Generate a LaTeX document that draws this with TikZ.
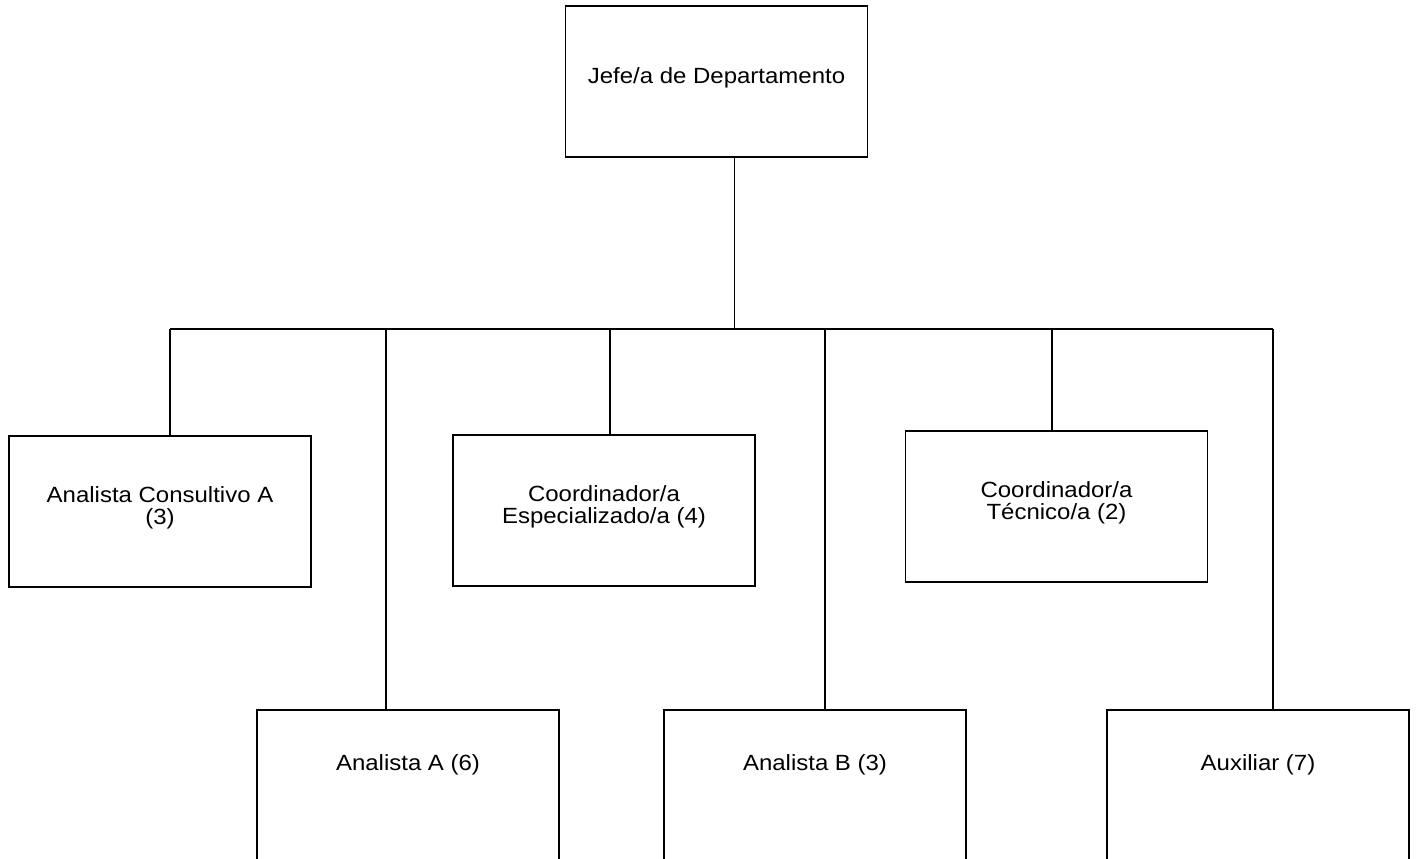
\documentclass[tikz,border=0pt]{standalone}
\usepackage{fontspec}
\setmainfont{Liberation Sans}[FakeStretch=1.09]

\begin{document}
\begin{tikzpicture}[x=0.5pt,y=-0.5pt,
  box/.style={draw,line width=0.8pt,minimum width=151pt,minimum height=75.5pt,
    align=center,text depth=5.5pt,font=\fontsize{11}{11}\selectfont},
  low/.style={box,anchor=north,minimum height=0pt,inner ysep=0pt,
    text height=30.5pt,text depth=100pt},
  link/.style={line width=0.6pt}]
\clip (0,0) rectangle (1416,858);
\node[box] (jefe) at (716.5,81.5) {Jefe/a de Departamento};
\node[box] (ac) at (160,511.5) {Analista Consultivo A\\(3)};
\node[box] (ce) at (604,510.5) {Coordinador/a\\Especializado/a (4)};
\node[box] (ct) at (1056.5,506.5) {Coordinador/a\\Técnico/a (2)};
\node[low] (aa) at (408,709) {Analista A (6)};
\node[low] (ab) at (815,709) {Analista B (3)};
\node[low] (aux) at (1258,709) {Auxiliar (7)};
% bus and drops
\coordinate (top) at (734.5,329);
\coordinate (d1) at (170,329);
\coordinate (d2) at (386,329);
\coordinate (d3) at (610,329);
\coordinate (d4) at (825,329);
\coordinate (d5) at (1052,329);
\coordinate (d6) at (1273,329);
\draw[link] (top |- jefe.south) -- (top);
\draw[link] (d1) -- (d6);
\draw[link] (d1) -- (d1 |- ac.north);
\draw[link] (d2) -- (d2 |- aa.north);
\draw[link] (d3) -- (d3 |- ce.north);
\draw[link] (d4) -- (d4 |- ab.north);
\draw[link] (d5) -- (d5 |- ct.north);
\draw[link] (d6) -- (d6 |- aux.north);
\end{tikzpicture}
\end{document}
